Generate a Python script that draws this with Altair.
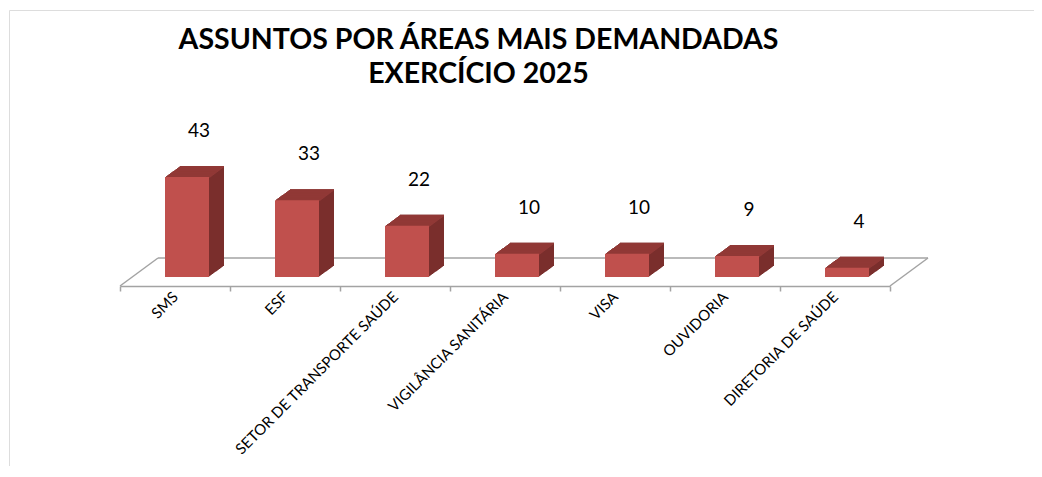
import altair as alt
import pandas as pd

# ---- data ----
categories = ["SMS", "ESF", "SETOR DE TRANSPORTE SAÚDE", "VIGILÂNCIA SANITÁRIA",
              "VISA", "OUVIDORIA", "DIRETORIA DE SAÚDE"]
values = [43, 33, 22, 10, 10, 9, 4]
title_lines = ["ASSUNTOS POR ÁREAS MAIS DEMANDADAS", "EXERCÍCIO 2025"]

df = pd.DataFrame({"cat": categories, "val": values})

# ---- styles ----
FRONT = "#c0504d"
TOP = "#913836"
SIDE = "#7a2e2c"
GRAY = "#a3a3a3"
DEPTH_X, DEPTH_Y = 15, 11      # bar depth (px)
FLOOR_DX, FLOOR_DY = 38, 28    # floor depth (px)
BAR_DX, BAR_DY = 12, 9         # bar placement inside floor depth
STEPS = 15

W, H = 1025, 456
FLOOR_Y = 276
xscale = alt.Scale(domain=categories, range=[111, 881], paddingInner=0, paddingOuter=0)
yscale = alt.Scale(domain=[0, 50], range=[FLOOR_Y, FLOOR_Y - 50 * 100 / 43], nice=False)

X = alt.X("cat:N", scale=xscale, sort=None, title=None,
          axis=alt.Axis(tickBand="extent", labelAngle=-45, labelAlign="right",
                        labelBaseline="middle", offset=-(H - FLOOR_Y),
                        domainColor=GRAY, domainWidth=1.5, tickColor=GRAY,
                        tickWidth=1.5, tickSize=5, labelFont="Lato",
                        labelFontSize=15, labelColor="black", labelPadding=3,
                        labelLimit=0, grid=False))
Y = alt.Y("val:Q", scale=yscale, axis=None)

base = alt.Chart(df)

layers = []
# floor back edge
layers.append(base.mark_rule(color=GRAY, strokeWidth=1.5, xOffset=-55 + FLOOR_DX,
                             x2Offset=55 + FLOOR_DX, yOffset=-FLOOR_DY).encode(
    x=X, x2="cat:N", y=alt.Y(datum=0, scale=yscale, axis=None)))
# floor side edges
layers.append(base.mark_rule(color=GRAY, strokeWidth=1.5, xOffset=-55,
                             x2Offset=-55 + FLOOR_DX, y2Offset=-FLOOR_DY).encode(
    x=X, x2="cat:N", y=alt.Y(datum=0, scale=yscale, axis=None), y2=alt.datum(0)
).transform_filter(alt.datum.cat == categories[0]))
layers.append(base.mark_rule(color=GRAY, strokeWidth=1.5, xOffset=55,
                             x2Offset=55 + FLOOR_DX, y2Offset=-FLOOR_DY).encode(
    x=X, x2="cat:N", y=alt.Y(datum=0, scale=yscale, axis=None), y2=alt.datum(0)
).transform_filter(alt.datum.cat == categories[-1]))

# side faces (extrusion)
for k in range(STEPS, 0, -1):
    dx = BAR_DX + k * DEPTH_X / STEPS
    dy = -BAR_DY - k * DEPTH_Y / STEPS
    layers.append(base.mark_bar(size=44, color=SIDE, xOffset=dx, yOffset=dy).encode(x=X, y=Y))
# top faces
for k in range(STEPS, 0, -1):
    dx = BAR_DX + k * DEPTH_X / STEPS
    dy = -BAR_DY - k * DEPTH_Y / STEPS
    layers.append(base.mark_tick(orient="horizontal", size=44, thickness=1.6, color=TOP,
                                 xOffset=dx, yOffset=dy + 0.8, opacity=1).encode(x=X, y=Y))
# front faces
layers.append(base.mark_bar(size=44, color=FRONT, xOffset=BAR_DX, yOffset=-BAR_DY).encode(x=X, y=Y))
# value labels
layers.append(base.mark_text(font="Lato", fontSize=19, color="black", baseline="middle",
                             dx=BAR_DX + 12, dy=-BAR_DY - 46).encode(
    x=X, y=Y, text="val:Q"))

chart = alt.layer(*layers).properties(
    width=W, height=H,
    autosize=alt.AutoSizeParams(type="none"),
    padding={"left": 1, "top": 2, "right": 0, "bottom": 0},
    title=alt.TitleParams(text=title_lines, font="Lato", fontSize=28.5, fontWeight="bold",
                          color="black", anchor="middle", dx=-43, offset=-107,
                          lineHeight=34, baseline="bottom"),
).configure_view(stroke="#8a8a8a", strokeWidth=1.5,
                 strokeDash=[W, W + H, H, 0]).configure(background="white")

chart.save("out.html", embed_options={"renderer": "svg", "actions": False})
